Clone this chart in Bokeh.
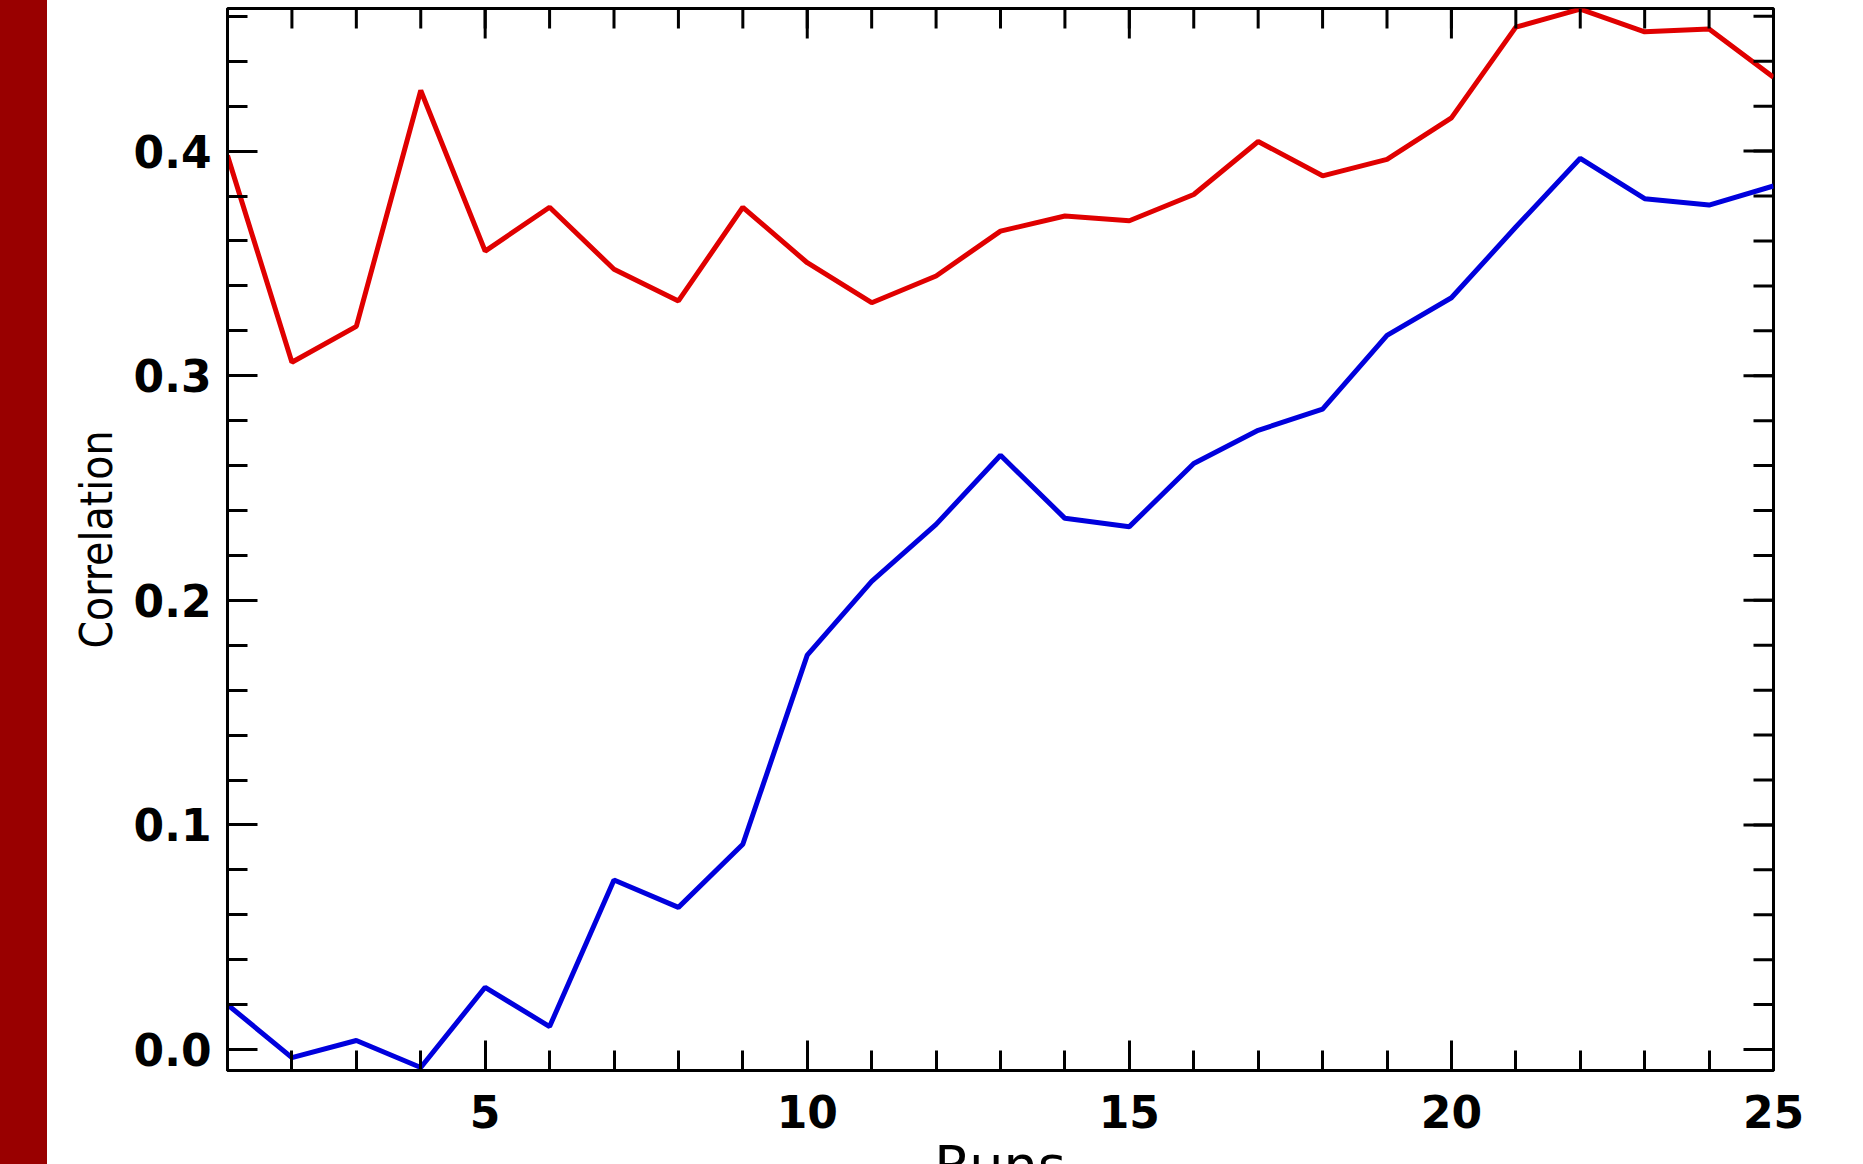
import math
from bokeh.plotting import figure
from bokeh.models import (FixedTicker, Range1d, Div, PrintfTickFormatter)
from bokeh.layouts import row, column
from bokeh.embed import file_html
from bokeh.resources import INLINE

# ---------------- data ----------------
runs = [1, 2, 3, 4, 5, 6, 7, 8, 9, 10, 11, 12, 13, 14, 15, 16, 17, 18, 19, 20,
        21, 22, 23, 24, 25]
red_corr = [0.398, 0.306, 0.322, 0.427, 0.3555, 0.375, 0.3474, 0.3333, 0.375,
            0.3503, 0.3325, 0.3444, 0.3644, 0.3711, 0.369, 0.3807, 0.4043,
            0.389, 0.3963, 0.4148, 0.4552, 0.4632, 0.4531, 0.4544, 0.4329]
blue_corr = [0.020, -0.0036, 0.004, -0.008, 0.0277, 0.0102, 0.0755, 0.0633,
             0.0914, 0.1756, 0.2084, 0.2338, 0.2646, 0.2365, 0.2328, 0.2609,
             0.2757, 0.2851, 0.3180, 0.3347, 0.3662, 0.3968, 0.3788, 0.376,
             0.3845]
x_major = [5, 10, 15, 20, 25]
x_minor = runs
y_major = [0.0, 0.1, 0.2, 0.3, 0.4]
y_minor = [0.0, 0.02, 0.04, 0.06, 0.08, 0.10, 0.12, 0.14, 0.16, 0.18, 0.20,
           0.22, 0.24, 0.26, 0.28, 0.30, 0.32, 0.34, 0.36, 0.38, 0.40, 0.42,
           0.44, 0.46]
x_label = "Runs"
y_label = "Correlation"
x_start, x_end = 1, 25
y_start, y_end = -0.00934, 0.4635

BAR_W = 47
FIG_W, FIG_H = 1816, 1164
BORDER_L, BORDER_R, BORDER_T, BORDER_B = 180, 90, 8, 94
TICK_FONT = "DejaVu Sans"
BLACK = "black"

p = figure(width=FIG_W, height=FIG_H,
           x_range=Range1d(x_start, x_end), y_range=Range1d(y_start, y_end),
           output_backend="svg", toolbar_location=None,
           min_border_left=BORDER_L, min_border_right=BORDER_R,
           min_border_top=BORDER_T, min_border_bottom=BORDER_B, margin=0)
p.xgrid.visible = False
p.ygrid.visible = False
p.outline_line_color = BLACK
p.outline_line_width = 3
p.background_fill_color = "white"
p.border_fill_color = "white"

p.line(runs, red_corr, line_color="#E00000", line_width=5)
p.line(runs, blue_corr, line_color="#0000DD", line_width=5)

xticker = FixedTicker(ticks=x_major, minor_ticks=x_minor)
yticker = FixedTicker(ticks=y_major, minor_ticks=y_minor)

bottom_axis = p.below[0]
left_axis = p.left[0]
bottom_axis.ticker = xticker
left_axis.ticker = yticker
left_axis.formatter = PrintfTickFormatter(format="%.1f")
bottom_axis.axis_label = None

for ax in (bottom_axis, left_axis):
    ax.axis_line_color = BLACK
    ax.axis_line_width = 3
    ax.major_tick_in = 30
    ax.major_tick_out = 0
    ax.minor_tick_in = 20
    ax.minor_tick_out = 0
    ax.major_tick_line_width = 3
    ax.minor_tick_line_width = 3
    ax.major_tick_line_color = BLACK
    ax.minor_tick_line_color = BLACK
    ax.major_label_text_font = TICK_FONT
    ax.major_label_text_font_size = "44px"
    ax.major_label_text_font_style = "bold"
    ax.major_label_text_color = BLACK

bottom_axis.major_label_standoff = 24
left_axis.major_label_standoff = 16

left_axis.axis_label = y_label
left_axis.axis_label_text_font = "DejaVu Sans Condensed, Liberation Sans Narrow, sans-serif"
left_axis.axis_label_text_font_size = "44px"
left_axis.axis_label_text_font_style = "normal"
left_axis.axis_label_text_color = BLACK
left_axis.axis_label_standoff = 9

# inward ticks on the top and right frame edges (mirroring the axes' ticks)
p.ray(x=x_minor, y=[y_end] * len(x_minor), length=20, length_units="screen",
      angle=-math.pi / 2, line_color=BLACK, line_width=3)
p.ray(x=x_major, y=[y_end] * len(x_major), length=30, length_units="screen",
      angle=-math.pi / 2, line_color=BLACK, line_width=3)
p.ray(x=[x_end] * len(y_minor), y=y_minor, length=20, length_units="screen",
      angle=math.pi, line_color=BLACK, line_width=3)
p.ray(x=[x_end] * len(y_major), y=y_major, length=30, length_units="screen",
      angle=math.pi, line_color=BLACK, line_width=3)

# x-axis title: sits below the tick labels and is cut by the page edge,
# as in the reference
RUNS_H = 40
frame_w = FIG_W - BORDER_L - BORDER_R
pad_left = 2 * BORDER_L + frame_w - FIG_W  # centres the text on the frame
runs_html = (
    '<div style="box-sizing:border-box; width:%dpx; padding-left:%dpx; '
    'padding-top:15px; text-align:center; font-family:\'DejaVu Sans\'; '
    'font-size:54px; line-height:1; color:black; white-space:nowrap;">%s</div>'
    % (FIG_W, pad_left, x_label)
)
runs_div = Div(text=runs_html, width=FIG_W, height=RUNS_H,
               margin=(-RUNS_H, 0, 0, 0),
               styles={"overflow": "hidden", "pointer-events": "none"})

bar = Div(width=BAR_W, height=FIG_H, margin=0,
          styles={"background-color": "#990000"})

layout = row(bar, column(p, runs_div, spacing=0), spacing=0)

open("out.html", "w").write(file_html(layout, INLINE))
